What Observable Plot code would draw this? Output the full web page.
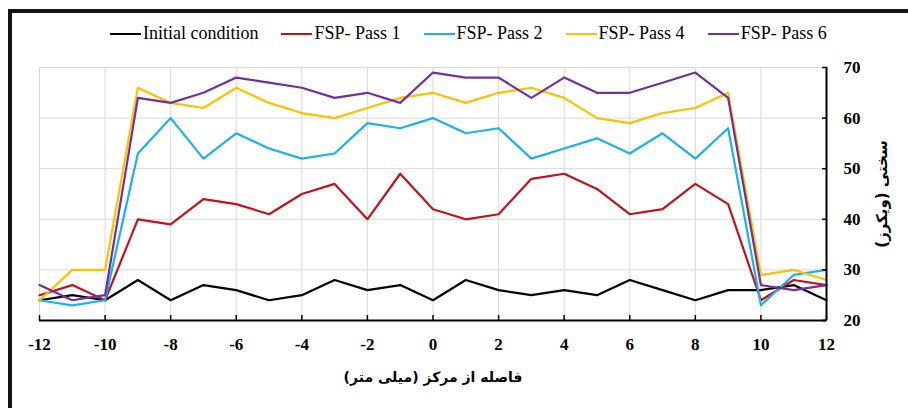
<!DOCTYPE html>
<html><head><meta charset="utf-8">
<script src="https://cdn.jsdelivr.net/npm/d3@7"></script>
<script src="https://cdn.jsdelivr.net/npm/@observablehq/plot@0.6"></script>
<style>
html,body{margin:0;padding:0;background:#fff;width:908px;height:408px;overflow:hidden;}
#frame{position:absolute;left:8px;top:9px;width:1000px;height:600px;border:4px solid #151515;box-sizing:border-box;}
#chart{position:absolute;left:0;top:0;}
#legend{position:absolute;top:23px;left:110px;display:flex;align-items:center;font-family:"Liberation Serif";font-size:18px;color:#000;white-space:nowrap;}
.item{display:flex;align-items:center;margin-right:23px;}
.sw{width:31px;height:2px;margin-right:2px;}
</style></head><body>
<div id="frame"></div>
<div id="chart"></div>
<div id="legend"></div>
<script>
const positions = [-12,-11,-10,-9,-8,-7,-6,-5,-4,-3,-2,-1,0,1,2,3,4,5,6,7,8,9,10,11,12];
const initialCondition = [24,25,24,28,24,27,26,24,25,28,26,27,24,28,26,25,26,25,28,26,24,26,26,27,24];
const pass1 = [25,27,24,40,39,44,43,41,45,47,40,49,42,40,41,48,49,46,41,42,47,43,24,28,27];
const pass2 = [24,23,24,53,60,52,57,54,52,53,59,58,60,57,58,52,54,56,53,57,52,58,23,29,30];
const pass4 = [24,30,30,66,63,62,66,63,61,60,62,64,65,63,65,66,64,60,59,61,62,65,29,30,28];
const pass6 = [27,24,25,64,63,65,68,67,66,64,65,63,69,68,68,64,68,65,65,67,69,64,27,26,27];
const seriesNames = ["Initial condition","FSP- Pass 1","FSP- Pass 2","FSP- Pass 4","FSP- Pass 6"];
const seriesColors = ["#000000","#c0141c","#1cb0ec","#ffc000","#7030a0"];
const xTicks = [-12,-10,-8,-6,-4,-2,0,2,4,6,8,10,12];
const yTicks = [20,30,40,50,60,70];
const xDomain = [-12, 12];
const yDomain = [20, 70];
const xTitle = "فاصله از مرکز (میلی متر)";
const yTitle = "سختی (ویکرز)";

const allSeries = [initialCondition, pass1, pass2, pass4, pass6];
const rows = allSeries.map((vals, i) => positions.map((x, j) => ({x, y: vals[j], s: seriesNames[i]})));
const rtl = s => "\u202B" + s + "\u202C";

const chart = Plot.plot({
  width: 908, height: 408,
  marginLeft: 39, marginRight: 82, marginTop: 67, marginBottom: 88,
  style: {fontFamily: "Liberation Serif", fontSize: "17px", fontWeight: "bold", background: "transparent", color: "#000"},
  x: {domain: xDomain},
  y: {domain: yDomain},
  marks: [
    Plot.gridX(xTicks, {stroke: "#d9d9d9", strokeOpacity: 1, strokeWidth: 1}),
    Plot.gridY(yTicks, {stroke: "#d9d9d9", strokeOpacity: 1, strokeWidth: 1}),
    ...rows.map((r, i) => Plot.line(r, {x: "x", y: "y", stroke: seriesColors[i], strokeWidth: 2.2})),
    Plot.ruleY([yDomain[0]], {stroke: "#000", strokeWidth: 2}),
    Plot.ruleX([xDomain[1]], {stroke: "#000", strokeWidth: 2}),
    Plot.axisX(xTicks, {anchor: "bottom", tickSize: -5, tickPadding: 22, label: null, tickFormat: d => String(d), stroke: "#000", strokeWidth: 1.5}),
    Plot.axisY(yTicks, {anchor: "right", tickSize: -5, tickPadding: 22, label: null, tickFormat: d => String(d), stroke: "#000", strokeWidth: 1.5}),
    Plot.text([rtl(xTitle)], {frameAnchor: "bottom", textAnchor: "middle", dy: 61, fontFamily: "DejaVu Sans", fontSize: 14, fontWeight: "bold", fill: "#000"}),
    Plot.text([rtl(yTitle)], {frameAnchor: "right", textAnchor: "middle", lineAnchor: "middle", dx: 56, rotate: -90, fontFamily: "DejaVu Sans", fontSize: 15, fontWeight: "bold", fill: "#000"})
  ]
});
document.getElementById("chart").appendChild(chart);

const legend = document.getElementById("legend");
seriesNames.forEach((n, i) => {
  const it = document.createElement("div"); it.className = "item";
  const sw = document.createElement("div"); sw.className = "sw"; sw.style.background = seriesColors[i];
  const t = document.createElement("span"); t.textContent = n;
  it.appendChild(sw); it.appendChild(t); legend.appendChild(it);
});
</script>
</body></html>
